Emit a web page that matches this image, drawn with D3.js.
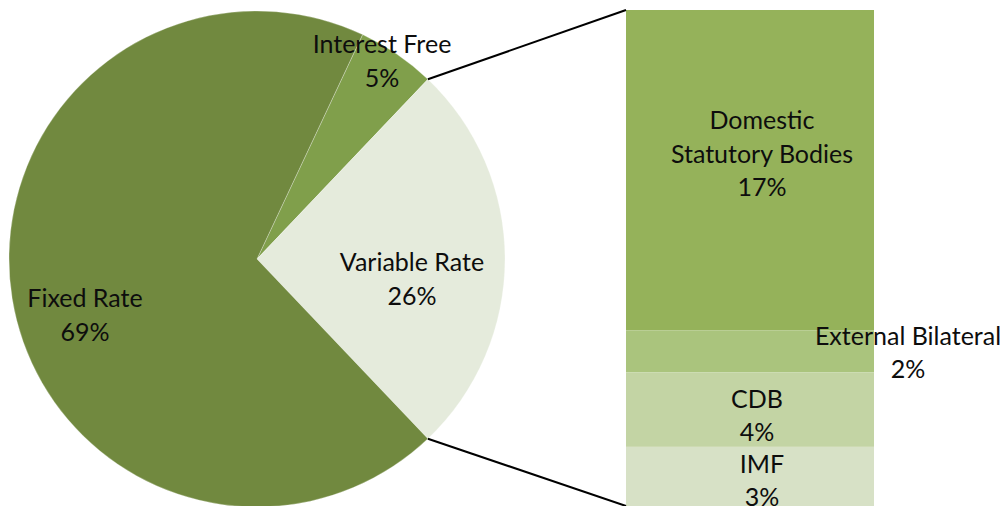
<!DOCTYPE html>
<meta charset="utf-8">
<style>
body { margin: 0; background: #fff; }
text { font-family: Lato, "Open Sans", sans-serif; font-size: 25px; fill: #0d0d0d; }
</style>
<body>
<svg width="1008" height="506"></svg>
<script src="https://d3js.org/d3.v7.min.js"></script>
<script>
// pie data
var pieNames = ["Interest Free", "Variable Rate", "Fixed Rate"],
    pieValues = [5.1, 25.8, 69.1],
    pieLabels = ["5%", "26%", "69%"];

// breakdown of variable rate
var barNames = [["Domestic", "Statutory Bodies"], ["External Bilateral"], ["CDB"], ["IMF"]],
    barValues = [16.8, 2.2, 3.9, 3.1],
    barLabels = ["17%", "2%", "4%", "3%"];

var pieColors = ["#809f4b", "#e5ebdc", "#71893f"],
    barColors = ["#95b25a", "#aac47d", "#c3d4a4", "#d7e1c6"];

var svg = d3.select("svg");

var cx = 257, cy = 259, r = 248;
var total = d3.sum(pieValues);
var start = Math.PI / 2 - (pieValues[1] / 2 + pieValues[0]) / total * 2 * Math.PI;

var pie = d3.pie().sort(null).startAngle(start).endAngle(start + 2 * Math.PI);
var arcs = pie(pieValues);
var arc = d3.arc().innerRadius(0).outerRadius(r);

var g = svg.append("g").attr("transform", "translate(" + cx + "," + cy + ")");
g.selectAll("path").data(arcs).enter().append("path")
    .attr("d", arc)
    .attr("fill", function(d, i) { return pieColors[i]; })
    .attr("stroke", "rgba(255,255,255,0.35)")
    .attr("stroke-width", 0.8);

// pie labels (offsets from centre, placed like the original)
var pieLabelPos = [[125, -206], [155, 12], [-172, 48]];
arcs.forEach(function(d, i) {
  var t = g.append("text").attr("text-anchor", "middle")
      .attr("x", pieLabelPos[i][0]).attr("y", pieLabelPos[i][1]);
  t.append("tspan").attr("x", pieLabelPos[i][0]).text(pieNames[i]);
  t.append("tspan").attr("x", pieLabelPos[i][0]).attr("dy", 34).text(pieLabels[i]);
});

// stacked bar
var barX = 626, barW = 248, barTop = 10, barBottom = 506;
var y = d3.scaleLinear().domain([0, d3.sum(barValues)]).range([barTop, barBottom]);
var cum = d3.cumsum([0].concat(barValues));

svg.selectAll("rect.seg").data(barValues).enter().append("rect")
    .attr("class", "seg")
    .attr("x", barX)
    .attr("width", barW)
    .attr("y", function(d, i) { return y(cum[i]); })
    .attr("height", function(d, i) { return y(cum[i + 1]) - y(cum[i]); })
    .attr("fill", function(d, i) { return barColors[i]; });

// bar labels
var barLabelX = [762, 908, 757, 762],
    barLabelY = [129, 345, 408, 473];
barValues.forEach(function(v, i) {
  var t = svg.append("text").attr("text-anchor", "middle").attr("y", barLabelY[i]);
  barNames[i].forEach(function(n, j) {
    t.append("tspan").attr("x", barLabelX[i]).attr("dy", j ? 34 : 0).text(n);
  });
  t.append("tspan").attr("x", barLabelX[i]).attr("dy", 33).text(barLabels[i]);
});

// connector lines from the variable-rate slice to the bar
var va = arcs[1];
function edge(a) { return [cx + r * Math.sin(a), cy - r * Math.cos(a)]; }
var p1 = edge(va.startAngle), p2 = edge(va.endAngle);
svg.append("line").attr("x1", p1[0]).attr("y1", p1[1]).attr("x2", barX).attr("y2", barTop)
    .attr("stroke", "#000").attr("stroke-width", 2);
svg.append("line").attr("x1", p2[0]).attr("y1", p2[1]).attr("x2", barX).attr("y2", barBottom)
    .attr("stroke", "#000").attr("stroke-width", 2);
</script>
</body>
